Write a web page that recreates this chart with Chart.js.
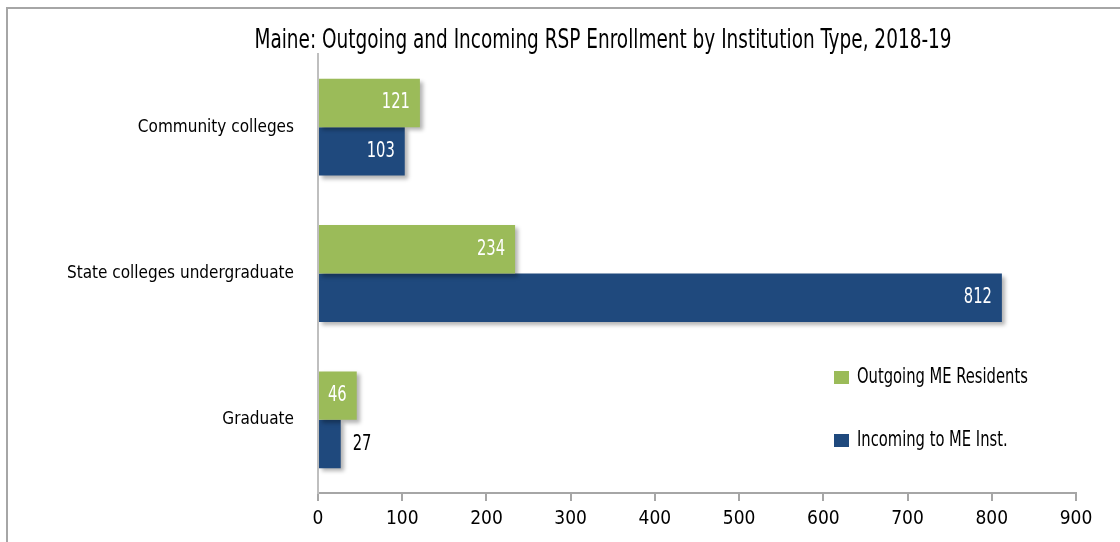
<!DOCTYPE html>
<html>
<head>
<meta charset="utf-8">
<script src="https://cdn.jsdelivr.net/npm/chart.js@4.4.1/dist/chart.umd.min.js"></script>
<style>
  body { margin: 0; background: #fff; overflow: hidden; }
  #frame { position: absolute; left: 6px; top: 7px; width: 1200px; height: 600px; border: 2px solid #a6a6a6; }
  #wrap { position: absolute; left: 0; top: 0; width: 1120px; height: 542px; }
</style>
</head>
<body>
<div id="frame"></div>
<div id="wrap"><canvas id="chart" width="1120" height="542"></canvas></div>
<script>
const categories = ['Community colleges', 'State colleges undergraduate', 'Graduate'];
const outgoing = [121, 234, 46];
const incoming = [103, 812, 27];
const seriesNames = ['Outgoing ME Residents', 'Incoming to ME Inst.'];
const xTicks = [0, 100, 200, 300, 400, 500, 600, 700, 800, 900];
const chartTitle = 'Maine: Outgoing and Incoming RSP Enrollment by Institution Type, 2018-19';

const FONT = '"DejaVu Sans Condensed", "DejaVu Sans", sans-serif';
const GREEN = '#9bbb59';
const BLUE = '#1f497d';

// draw text squeezed horizontally so it looks like the narrow original font
function narrowText(ctx, text, x, y, size, squeeze, align) {
  ctx.save();
  ctx.font = size + 'px ' + FONT;
  ctx.textBaseline = 'middle';
  ctx.textAlign = 'left';
  const w = ctx.measureText(text).width * squeeze;
  let left = x;
  if (align === 'right') left = x - w;
  if (align === 'center') left = x - w / 2;
  ctx.translate(left, y);
  ctx.scale(squeeze, 1);
  ctx.fillText(text, 0, 0);
  ctx.restore();
}

const extras = {
  id: 'extras',
  beforeDatasetsDraw(chart) {
    const ctx = chart.ctx;
    ctx.save();
    ctx.shadowColor = 'rgba(0,0,0,0.3)';
    ctx.shadowBlur = 4;
    ctx.shadowOffsetX = 3;
    ctx.shadowOffsetY = 3;
  },
  afterDatasetsDraw(chart) {
    const ctx = chart.ctx;
    ctx.restore();

    // value labels
    chart.data.datasets.forEach((ds, i) => {
      chart.getDatasetMeta(i).data.forEach((bar, j) => {
        const v = String(ds.data[j]);
        const w = bar.x - bar.base;
        if (w > 30) {
          ctx.fillStyle = '#fff';
          narrowText(ctx, v, bar.x - 10, bar.y, 21, 0.78, 'right');
        } else {
          ctx.fillStyle = '#000';
          narrowText(ctx, v, bar.x + 12, bar.y, 21, 0.78, 'left');
        }
      });
    });

    // title
    ctx.fillStyle = '#000';
    narrowText(ctx, chartTitle, 603, 41, 26, 0.79, 'center');

    // legend
    const legendY = [378, 441];
    chart.data.datasets.forEach((ds, i) => {
      ctx.fillStyle = ds.backgroundColor;
      ctx.fillRect(834, legendY[i] - 7, 15, 13);
      ctx.fillStyle = '#000';
      narrowText(ctx, ds.label, 857, legendY[i], 21, 0.78, 'left');
    });
  }
};

new Chart(document.getElementById('chart'), {
  type: 'bar',
  data: {
    labels: categories,
    datasets: [
      { label: seriesNames[0], data: outgoing, backgroundColor: GREEN },
      { label: seriesNames[1], data: incoming, backgroundColor: BLUE }
    ]
  },
  options: {
    indexAxis: 'y',
    responsive: false,
    animation: false,
    layout: { padding: { top: 54, right: 44, left: 0, bottom: 0 } },
    datasets: { bar: { categoryPercentage: 0.662, barPercentage: 1 } },
    scales: {
      x: {
        min: 0,
        max: 900,
        afterBuildTicks(scale) { scale.ticks = xTicks.map(v => ({ value: v })); },
        afterFit(scale) { scale.height = 49; },
        grid: { drawOnChartArea: false, color: '#a6a6a6', lineWidth: 2, tickLength: 8 },
        border: { color: '#a6a6a6', width: 2 },
        ticks: { color: '#000', font: { family: FONT, size: 19 }, padding: 7 }
      },
      y: {
        afterFit(scale) { scale.width = 318; },
        grid: { display: false, drawTicks: false },
        border: { display: true, color: '#bfbfbf', width: 2 },
        ticks: { color: '#000', font: { family: FONT, size: 17 }, padding: 24 }
      }
    },
    plugins: {
      legend: { display: false },
      tooltip: { enabled: false }
    }
  },
  plugins: [extras]
});
</script>
</body>
</html>
